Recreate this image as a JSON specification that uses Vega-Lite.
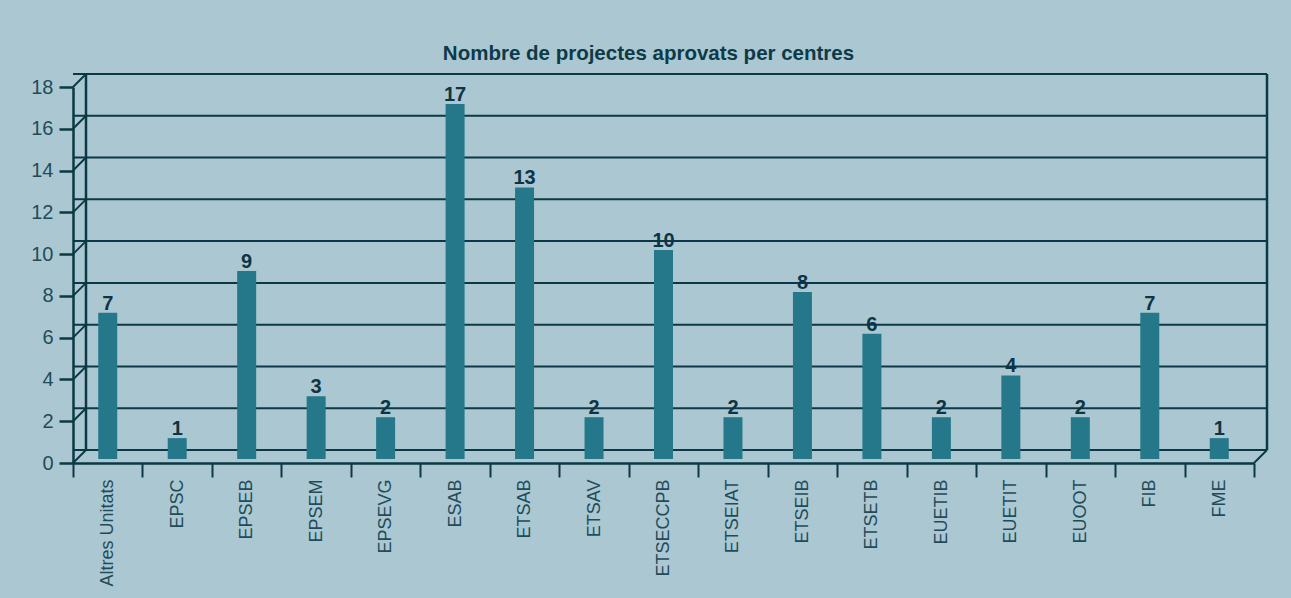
{
  "$schema": "https://vega.github.io/schema/vega-lite/v6.json",
  "width": 1181,
  "height": 376,
  "autosize": {"type": "none"},
  "padding": {"left": 73, "top": 87, "right": 37, "bottom": 135},
  "background": "#abc8d2",
  "config": {
    "view": {"stroke": null},
    "font": "Liberation Sans"
  },
  "title": {
    "text": "Nombre de projectes aprovats per centres",
    "font": "Liberation Sans",
    "fontSize": 20.5,
    "fontWeight": "bold",
    "color": "#0d3a48",
    "anchor": "middle",
    "frame": "group",
    "baseline": "alphabetic",
    "offset": -8,
    "dx": -15
  },
  "datasets": {
    "centres": [
      {"centre": "Altres Unitats", "projectes": 7},
      {"centre": "EPSC", "projectes": 1},
      {"centre": "EPSEB", "projectes": 9},
      {"centre": "EPSEM", "projectes": 3},
      {"centre": "EPSEVG", "projectes": 2},
      {"centre": "ESAB", "projectes": 17},
      {"centre": "ETSAB", "projectes": 13},
      {"centre": "ETSAV", "projectes": 2},
      {"centre": "ETSECCPB", "projectes": 10},
      {"centre": "ETSEIAT", "projectes": 2},
      {"centre": "ETSEIB", "projectes": 8},
      {"centre": "ETSETB", "projectes": 6},
      {"centre": "EUETIB", "projectes": 2},
      {"centre": "EUETIT", "projectes": 4},
      {"centre": "EUOOT", "projectes": 2},
      {"centre": "FIB", "projectes": 7},
      {"centre": "FME", "projectes": 1}
    ],
    "ticks": [
      {"v": 0}, {"v": 2}, {"v": 4}, {"v": 6}, {"v": 8}, {"v": 10},
      {"v": 12}, {"v": 14}, {"v": 16}, {"v": 18}
    ],
    "one": [{}]
  },
  "layer": [
    {
      "layer": [
        {
          "data": {"name": "ticks"},
          "mark": {"type": "rule", "color": "#0b3846", "strokeWidth": 2, "xOffset": 13, "x2Offset": 13, "yOffset": -13},
          "encoding": {
            "y": {
              "field": "v",
              "type": "quantitative",
              "scale": {"domain": [0, 18], "nice": false},
              "axis": {
                "title": null,
                "values": [0, 2, 4, 6, 8, 10, 12, 14, 16, 18],
                "grid": false,
                "labelFontSize": 20,
                "labelColor": "#1f4c5a",
                "labelPadding": 6,
                "tickSize": 14,
                "tickWidth": 2.5,
                "tickColor": "#0b3846",
                "domainColor": "#0b3846",
                "domainWidth": 2.5
              }
            }
          }
        },
        {
          "data": {"name": "ticks"},
          "mark": {"type": "rule", "color": "#0b3846", "strokeWidth": 2, "x2Offset": 13, "y2Offset": -13},
          "encoding": {
            "x": {"datum": 0, "type": "quantitative", "scale": {"domain": [0, 1], "nice": false}, "axis": null},
            "x2": {"datum": 0},
            "y": {"field": "v", "type": "quantitative"},
            "y2": {"field": "v"}
          }
        },
        {
          "data": {"name": "one"},
          "mark": {"type": "rule", "color": "#0b3846", "strokeWidth": 2.5, "xOffset": 13, "yOffset": -13, "y2Offset": -13},
          "encoding": {
            "x": {"datum": 0, "type": "quantitative"},
            "y": {"datum": 0, "type": "quantitative"},
            "y2": {"datum": 18}
          }
        },
        {
          "data": {"name": "one"},
          "mark": {"type": "rule", "color": "#0b3846", "strokeWidth": 2.5, "xOffset": 13, "yOffset": -13, "y2Offset": -13},
          "encoding": {
            "x": {"datum": 1, "type": "quantitative"},
            "y": {"datum": 0, "type": "quantitative"},
            "y2": {"datum": 18}
          }
        },
        {
          "data": {"name": "one"},
          "mark": {"type": "rule", "color": "#0b3846", "strokeWidth": 2, "x2Offset": 13, "y2Offset": -13},
          "encoding": {
            "x": {"datum": 1, "type": "quantitative"},
            "x2": {"datum": 1},
            "y": {"datum": 0, "type": "quantitative"},
            "y2": {"datum": 0}
          }
        }
      ]
    },
    {
      "data": {"name": "centres"},
      "encoding": {
        "x": {
          "field": "centre",
          "type": "nominal",
          "sort": null,
          "scale": {"paddingInner": 0, "paddingOuter": 0},
          "axis": {
            "orient": "bottom",
            "title": null,
            "tickBand": "extent",
            "labelAngle": -90,
            "labelAlign": "right",
            "labelBaseline": "middle",
            "labelFontSize": 18,
            "labelColor": "#1f4c5a",
            "labelPadding": 2,
            "tickSize": 14,
            "tickWidth": 2,
            "tickColor": "#0b3846",
            "domainColor": "#0b3846",
            "domainWidth": 2.5
          }
        },
        "y": {
          "field": "projectes",
          "type": "quantitative"
        }
      },
      "layer": [
        {
          "mark": {"type": "bar", "width": 19, "color": "#25788a", "yOffset": -4, "y2Offset": -2}
        },
        {
          "mark": {"type": "text", "baseline": "alphabetic", "yOffset": -7, "fontSize": 20, "fontWeight": "bold", "color": "#0d3545"},
          "encoding": {"text": {"field": "projectes", "type": "quantitative"}}
        }
      ]
    }
  ],
  "resolve": {"scale": {"x": "independent"}}
}
